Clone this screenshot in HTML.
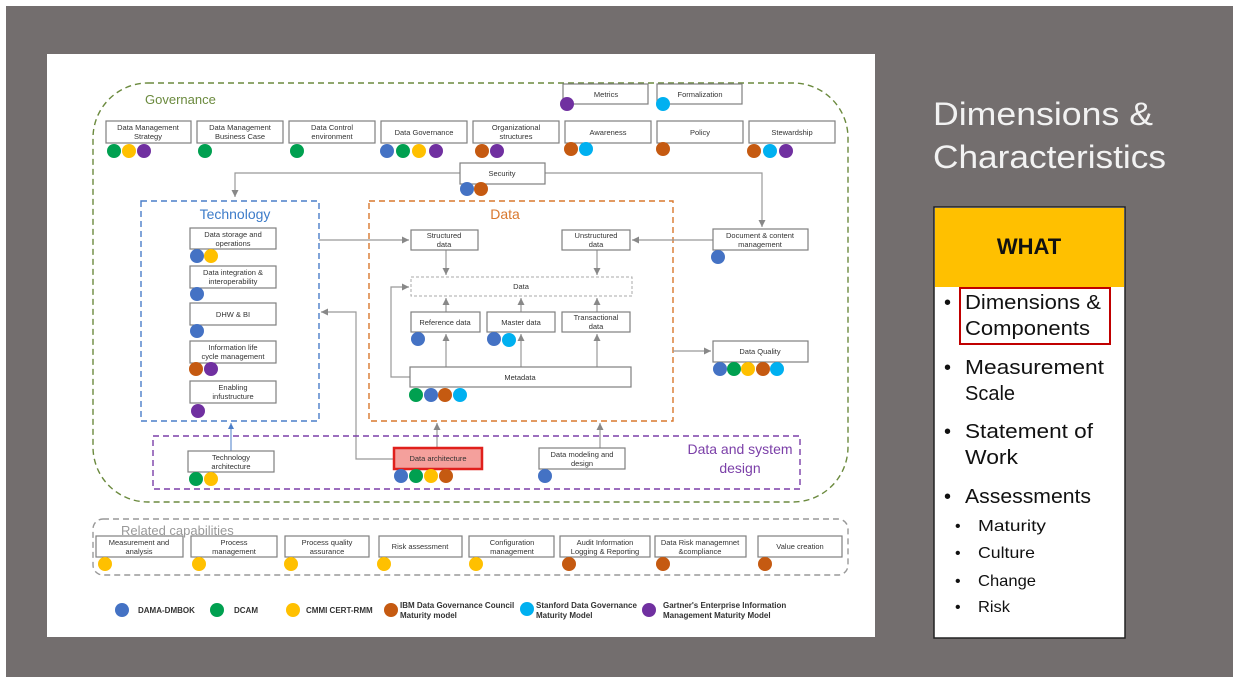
<!DOCTYPE html>
<html><head><meta charset="utf-8"><style>
html,body{margin:0;padding:0;background:#fff;}
svg{display:block;font-family:"Liberation Sans",sans-serif;}
.b{fill:#fff;stroke:#7f7f7f;stroke-width:1.2;}
.t{font-size:7.5px;fill:#333;text-anchor:middle;}
.l{stroke:#999;stroke-width:1.2;fill:none;}
</style></head><body>
<svg width="1252" height="697" viewBox="0 0 1252 697">
<defs><marker id="a" markerWidth="8" markerHeight="8" refX="6" refY="3" orient="auto"><path d="M0,0L6,3L0,6z" fill="#888"/></marker>
<marker id="ab" markerWidth="8" markerHeight="8" refX="6" refY="3" orient="auto"><path d="M0,0L6,3L0,6z" fill="#4a7ec9"/></marker></defs>
<rect x="6" y="6" width="1227" height="671" fill="#736e6e"/>
<rect x="47" y="54" width="828" height="583" fill="#fff"/>
<rect x="93" y="83" width="755" height="419" rx="55" fill="none" stroke="#6b8a3e" stroke-width="1.4" stroke-dasharray="6,4"/>
<text x="145" y="104" font-size="13" fill="#6b8a3e">Governance</text>
<g>
<rect class="b" x="106" y="121" width="85" height="22"/><text class="t" x="148" y="130">Data Management</text><text class="t" x="148" y="139">Strategy</text>
<rect class="b" x="197" y="121" width="86" height="22"/><text class="t" x="240" y="130">Data Management</text><text class="t" x="240" y="139">Business Case</text>
<rect class="b" x="289" y="121" width="86" height="22"/><text class="t" x="332" y="130">Data Control</text><text class="t" x="332" y="139">environment</text>
<rect class="b" x="381" y="121" width="86" height="22"/><text class="t" x="424" y="135">Data Governance</text>
<rect class="b" x="473" y="121" width="86" height="22"/><text class="t" x="516" y="130">Organizational</text><text class="t" x="516" y="139">structures</text>
<rect class="b" x="565" y="121" width="86" height="22"/><text class="t" x="608" y="135">Awareness</text>
<rect class="b" x="657" y="121" width="86" height="22"/><text class="t" x="700" y="135">Policy</text>
<rect class="b" x="749" y="121" width="86" height="22"/><text class="t" x="792" y="135">Stewardship</text>
<rect class="b" x="563" y="84" width="85" height="20"/><text class="t" x="606" y="97">Metrics</text>
<rect class="b" x="657" y="84" width="85" height="20"/><text class="t" x="700" y="97">Formalization</text>
</g>
<path class="l" d="M460,173H235V197" marker-end="url(#a)"/>
<path class="l" d="M545,173H762V227" marker-end="url(#a)"/>
<rect class="b" x="460" y="163" width="85" height="21"/><text class="t" x="502" y="176">Security</text>
<rect x="141" y="201" width="178" height="220" fill="none" stroke="#4a7ec9" stroke-width="1.4" stroke-dasharray="6,4"/>
<text x="235" y="219" font-size="14" fill="#3d7cc9" text-anchor="middle">Technology</text>
<rect class="b" x="190" y="228" width="86" height="21"/><text class="t" x="233" y="237">Data storage and</text><text class="t" x="233" y="246">operations</text>
<rect class="b" x="190" y="266" width="86" height="22"/><text class="t" x="233" y="275">Data integration &amp;</text><text class="t" x="233" y="284">interoperability</text>
<rect class="b" x="190" y="303" width="86" height="22"/><text class="t" x="233" y="317">DHW &amp; BI</text>
<rect class="b" x="190" y="341" width="86" height="22"/><text class="t" x="233" y="350">Information life</text><text class="t" x="233" y="359">cycle management</text>
<rect class="b" x="190" y="381" width="86" height="22"/><text class="t" x="233" y="390">Enabling</text><text class="t" x="233" y="399">infustructure</text>
<rect x="369" y="201" width="304" height="220" fill="none" stroke="#d9782e" stroke-width="1.4" stroke-dasharray="6,4"/>
<text x="505" y="219" font-size="14" fill="#d9782e" text-anchor="middle">Data</text>
<path class="l" d="M319,240H409" marker-end="url(#a)"/>
<path class="l" d="M713,240H632" marker-end="url(#a)"/>
<path class="l" d="M446,250V275" marker-end="url(#a)"/>
<path class="l" d="M597,250V275" marker-end="url(#a)"/>
<path class="l" d="M446,367V334" marker-end="url(#a)"/>
<path class="l" d="M521,367V334" marker-end="url(#a)"/>
<path class="l" d="M597,367V334" marker-end="url(#a)"/>
<path class="l" d="M446,312V298" marker-end="url(#a)"/>
<path class="l" d="M521,312V298" marker-end="url(#a)"/>
<path class="l" d="M597,312V298" marker-end="url(#a)"/>
<path class="l" d="M410,377H391V287H409" marker-end="url(#a)"/>
<path class="l" d="M673,351H711" marker-end="url(#a)"/>
<rect class="b" x="411" y="230" width="67" height="20"/><text class="t" x="444" y="238">Structured</text><text class="t" x="444" y="247">data</text>
<rect class="b" x="562" y="230" width="68" height="20"/><text class="t" x="596" y="238">Unstructured</text><text class="t" x="596" y="247">data</text>
<rect class="b" x="713" y="229" width="95" height="21"/><text class="t" x="760" y="238">Document &amp; content</text><text class="t" x="760" y="247">management</text>
<rect x="411" y="277" width="221" height="19" fill="#fff" stroke="#aaa" stroke-dasharray="3,2"/><text class="t" x="521" y="289">Data</text>
<rect class="b" x="411" y="312" width="69" height="20"/><text class="t" x="445" y="325">Reference data</text>
<rect class="b" x="487" y="312" width="68" height="20"/><text class="t" x="521" y="325">Master data</text>
<rect class="b" x="562" y="312" width="68" height="20"/><text class="t" x="596" y="320">Transactional</text><text class="t" x="596" y="329">data</text>
<rect class="b" x="410" y="367" width="221" height="20"/><text class="t" x="520" y="380">Metadata</text>
<rect class="b" x="713" y="341" width="95" height="21"/><text class="t" x="760" y="354">Data Quality</text>
<path class="l" d="M394,459H356V312H321" marker-end="url(#a)"/>
<path d="M231,451V423" stroke="#4a7ec9" fill="none" marker-end="url(#ab)"/>
<path class="l" d="M437,448V423" marker-end="url(#a)"/>
<path class="l" d="M600,448V423" marker-end="url(#a)"/>
<rect x="153" y="436" width="647" height="53" fill="none" stroke="#7b3fa8" stroke-width="1.4" stroke-dasharray="6,4"/>
<text x="740" y="454" font-size="14" fill="#7b3fa8" text-anchor="middle">Data and system</text>
<text x="740" y="473" font-size="14" fill="#7b3fa8" text-anchor="middle">design</text>
<rect class="b" x="188" y="451" width="86" height="21"/><text class="t" x="231" y="460">Technology</text><text class="t" x="231" y="469">architecture</text>
<rect x="394" y="448" width="88" height="21" fill="#f4a09c" stroke="#e0201c" stroke-width="2.5"/><text class="t" x="438" y="461">Data architecture</text>
<rect class="b" x="539" y="448" width="86" height="21"/><text class="t" x="582" y="457">Data modeling and</text><text class="t" x="582" y="466">design</text>
<rect x="93" y="519" width="755" height="56" rx="10" fill="none" stroke="#999" stroke-width="1.4" stroke-dasharray="6,4"/>
<text x="121" y="535" font-size="13" fill="#999">Related capabilities</text>
<g>
<rect class="b" x="96" y="536" width="87" height="21"/><text class="t" x="139" y="545">Measurement and</text><text class="t" x="139" y="554">analysis</text>
<rect class="b" x="191" y="536" width="86" height="21"/><text class="t" x="234" y="545">Process</text><text class="t" x="234" y="554">management</text>
<rect class="b" x="285" y="536" width="84" height="21"/><text class="t" x="327" y="545">Process quality</text><text class="t" x="327" y="554">assurance</text>
<rect class="b" x="379" y="536" width="83" height="21"/><text class="t" x="420" y="549">Risk assessment</text>
<rect class="b" x="469" y="536" width="85" height="21"/><text class="t" x="512" y="545">Configuration</text><text class="t" x="512" y="554">management</text>
<rect class="b" x="560" y="536" width="90" height="21"/><text class="t" x="605" y="545">Audit Information</text><text class="t" x="605" y="554">Logging &amp; Reporting</text>
<rect class="b" x="655" y="536" width="91" height="21"/><text class="t" x="700" y="545">Data Risk managemnet</text><text class="t" x="700" y="554">&amp;compliance</text>
<rect class="b" x="758" y="536" width="84" height="21"/><text class="t" x="800" y="549">Value creation</text>
</g>
<g>
<circle cx="114" cy="151" r="7" fill="#00a050"/><circle cx="129" cy="151" r="7" fill="#ffc000"/><circle cx="144" cy="151" r="7" fill="#7030a0"/>
<circle cx="205" cy="151" r="7" fill="#00a050"/>
<circle cx="297" cy="151" r="7" fill="#00a050"/>
<circle cx="387" cy="151" r="7" fill="#4472c4"/><circle cx="403" cy="151" r="7" fill="#00a050"/><circle cx="419" cy="151" r="7" fill="#ffc000"/><circle cx="436" cy="151" r="7" fill="#7030a0"/>
<circle cx="482" cy="151" r="7" fill="#c55a11"/><circle cx="497" cy="151" r="7" fill="#7030a0"/>
<circle cx="571" cy="149" r="7" fill="#c55a11"/><circle cx="586" cy="149" r="7" fill="#00b0f0"/>
<circle cx="663" cy="149" r="7" fill="#c55a11"/>
<circle cx="754" cy="151" r="7" fill="#c55a11"/><circle cx="770" cy="151" r="7" fill="#00b0f0"/><circle cx="786" cy="151" r="7" fill="#7030a0"/>
<circle cx="567" cy="104" r="7" fill="#7030a0"/><circle cx="663" cy="104" r="7" fill="#00b0f0"/>
<circle cx="467" cy="189" r="7" fill="#4472c4"/><circle cx="481" cy="189" r="7" fill="#c55a11"/>
<circle cx="197" cy="256" r="7" fill="#4472c4"/><circle cx="211" cy="256" r="7" fill="#ffc000"/>
<circle cx="197" cy="294" r="7" fill="#4472c4"/>
<circle cx="197" cy="331" r="7" fill="#4472c4"/>
<circle cx="196" cy="369" r="7" fill="#c55a11"/><circle cx="211" cy="369" r="7" fill="#7030a0"/>
<circle cx="198" cy="411" r="7" fill="#7030a0"/>
<circle cx="718" cy="257" r="7" fill="#4472c4"/>
<circle cx="418" cy="339" r="7" fill="#4472c4"/>
<circle cx="494" cy="339" r="7" fill="#4472c4"/><circle cx="509" cy="340" r="7" fill="#00b0f0"/>
<circle cx="416" cy="395" r="7" fill="#00a050"/><circle cx="431" cy="395" r="7" fill="#4472c4"/><circle cx="445" cy="395" r="7" fill="#c55a11"/><circle cx="460" cy="395" r="7" fill="#00b0f0"/>
<circle cx="720" cy="369" r="7" fill="#4472c4"/><circle cx="734" cy="369" r="7" fill="#00a050"/><circle cx="748" cy="369" r="7" fill="#ffc000"/><circle cx="763" cy="369" r="7" fill="#c55a11"/><circle cx="777" cy="369" r="7" fill="#00b0f0"/>
<circle cx="196" cy="479" r="7" fill="#00a050"/><circle cx="211" cy="479" r="7" fill="#ffc000"/>
<circle cx="401" cy="476" r="7" fill="#4472c4"/><circle cx="416" cy="476" r="7" fill="#00a050"/><circle cx="431" cy="476" r="7" fill="#ffc000"/><circle cx="446" cy="476" r="7" fill="#c55a11"/>
<circle cx="545" cy="476" r="7" fill="#4472c4"/>
<circle cx="105" cy="564" r="7" fill="#ffc000"/><circle cx="199" cy="564" r="7" fill="#ffc000"/><circle cx="291" cy="564" r="7" fill="#ffc000"/><circle cx="384" cy="564" r="7" fill="#ffc000"/><circle cx="476" cy="564" r="7" fill="#ffc000"/>
<circle cx="569" cy="564" r="7" fill="#c55a11"/><circle cx="663" cy="564" r="7" fill="#c55a11"/><circle cx="765" cy="564" r="7" fill="#c55a11"/>
</g>
<g font-size="8" font-weight="bold" fill="#333">
<circle cx="122" cy="610" r="7" fill="#4472c4"/><text x="138" y="613">DAMA-DMBOK</text>
<circle cx="217" cy="610" r="7" fill="#00a050"/><text x="234" y="613">DCAM</text>
<circle cx="293" cy="610" r="7" fill="#ffc000"/><text x="306" y="613">CMMI CERT-RMM</text>
<circle cx="391" cy="610" r="7" fill="#c55a11"/><text x="400" y="608">IBM Data Governance Council</text><text x="400" y="618">Maturity model</text>
<circle cx="527" cy="609" r="7" fill="#00b0f0"/><text x="536" y="608">Stanford Data Governance</text><text x="536" y="618">Maturity Model</text>
<circle cx="649" cy="610" r="7" fill="#7030a0"/><text x="663" y="608">Gartner's Enterprise Information</text><text x="663" y="618">Management Maturity Model</text>
</g>
<text x="933" y="125" font-size="32" fill="#f2f2f2" textLength="220" lengthAdjust="spacingAndGlyphs">Dimensions &amp;</text>
<text x="933" y="168" font-size="32" fill="#f2f2f2" textLength="233" lengthAdjust="spacingAndGlyphs">Characteristics</text>
<rect x="934" y="207" width="191" height="431" fill="#fff" stroke="#222" stroke-width="1.5"/>
<rect x="935" y="208" width="189" height="79" fill="#ffc000"/>
<text x="1029" y="254" font-size="22" font-weight="bold" fill="#111" text-anchor="middle">WHAT</text>
<rect x="960" y="288" width="150" height="56" fill="none" stroke="#c00000" stroke-width="2"/>
<g font-size="20" fill="#111" lengthAdjust="spacingAndGlyphs">
<text x="944" y="309">•</text><text x="965" y="309" textLength="136" lengthAdjust="spacingAndGlyphs">Dimensions &amp;</text><text x="965" y="335" textLength="125" lengthAdjust="spacingAndGlyphs">Components</text>
<text x="944" y="374">•</text><text x="965" y="374" textLength="139" lengthAdjust="spacingAndGlyphs">Measurement</text><text x="965" y="400" textLength="50" lengthAdjust="spacingAndGlyphs">Scale</text>
<text x="944" y="438">•</text><text x="965" y="438" textLength="128" lengthAdjust="spacingAndGlyphs">Statement of</text><text x="965" y="464" textLength="53" lengthAdjust="spacingAndGlyphs">Work</text>
<text x="944" y="503">•</text><text x="965" y="503" textLength="126" lengthAdjust="spacingAndGlyphs">Assessments</text>
</g>
<g font-size="16" fill="#111">
<text x="955" y="531">•</text><text x="978" y="531" textLength="68" lengthAdjust="spacingAndGlyphs">Maturity</text>
<text x="955" y="558">•</text><text x="978" y="558" textLength="57" lengthAdjust="spacingAndGlyphs">Culture</text>
<text x="955" y="586">•</text><text x="978" y="586" textLength="58" lengthAdjust="spacingAndGlyphs">Change</text>
<text x="955" y="612">•</text><text x="978" y="612" textLength="32" lengthAdjust="spacingAndGlyphs">Risk</text>
</g>
</svg>
</body></html>
